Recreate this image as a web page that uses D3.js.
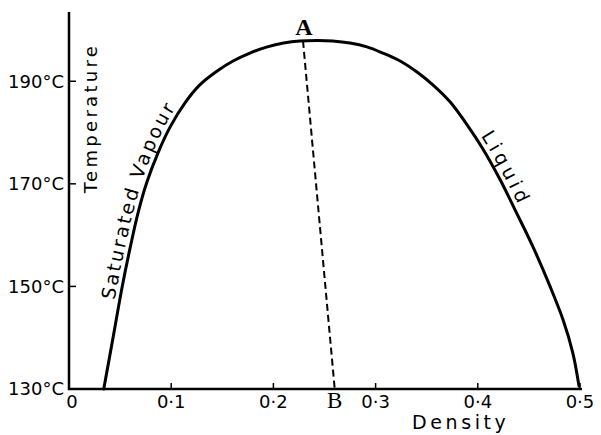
<!DOCTYPE html>
<html>
<head>
<meta charset="utf-8">
<script src="https://cdn.jsdelivr.net/npm/d3@7"></script>
<style>
  html, body { margin: 0; padding: 0; background: #fff; }
  svg { display: block; }
  text { fill: #000; }
</style>
</head>
<body>
<svg id="chart" width="601" height="435"></svg>
<script>
// ---- data ----
const density = [0.034, 0.043, 0.052, 0.060, 0.0675, 0.076, 0.087, 0.099, 0.1135, 0.128, 0.145, 0.1605, 0.177, 0.194, 0.210, 0.226, 0.243, 0.258,
                 0.275, 0.2915, 0.307, 0.324, 0.3405, 0.356, 0.373, 0.389, 0.405, 0.422, 0.438, 0.454, 0.4705, 0.4835, 0.493, 0.499];
const temperature = [130, 139.9, 149.9, 157.7, 164.3, 170.2, 176.0, 181.1, 185.8, 189.3, 192.0, 193.95, 195.5, 196.7, 197.45, 197.85, 197.95, 197.85,
                     197.45, 196.7, 195.5, 193.95, 191.8, 189.3, 185.95, 181.65, 176.8, 170.75, 164.3, 157.7, 150.1, 143.45, 137.0, 130.6];
const diameterDensity = [0.229, 0.260];
const diameterTemp = [197.85, 130];
const xTicks = [0, 0.1, 0.2, 0.3, 0.4, 0.5];
const xTickLabels = ["0", "0·1", "0·2", "0·3", "0·4", "0·5"];
const yTicks = [130, 150, 170, 190];
const yTickLabels = ["130°C", "150°C", "170°C", "190°C"];
const curveLabels = ["Saturated Vapour", "Liquid"];
const curveLabelDensity = [0.051, 0.400];
const curveLabelTemp = [147, 179];
const pointLabels = ["A", "B"];

// ---- layout ----
const sans = '"DejaVu Sans", sans-serif';
const serif = '"Liberation Serif", "DejaVu Serif", serif';
const svg = d3.select("#chart");
const x = d3.scaleLinear().domain([0, 0.5]).range([69, 580]);
const y = d3.scaleLinear().domain([130, 203.5]).range([389, 12]);

// axes lines
svg.append("line").attr("x1", x(0)).attr("x2", x(0)).attr("y1", y(203.5)).attr("y2", y(130) + 1)
  .attr("stroke", "#000").attr("stroke-width", 2.5);
svg.append("line").attr("x1", x(0) - 1).attr("x2", x(0.5) + 2).attr("y1", y(130)).attr("y2", y(130))
  .attr("stroke", "#000").attr("stroke-width", 2.5);

// x ticks
xTicks.forEach((t, i) => {
  if (t > 0) {
    svg.append("line").attr("x1", x(t)).attr("x2", x(t)).attr("y1", y(130)).attr("y2", y(130) - 6)
      .attr("stroke", "#000").attr("stroke-width", 1.5);
  }
  svg.append("text").attr("x", x(t) + (t === 0 ? 3 : 0)).attr("y", 408)
    .attr("text-anchor", "middle").style("font-family", sans).attr("font-size", 18).text(xTickLabels[i]);
});

// y ticks
yTicks.forEach((t, i) => {
  svg.append("line").attr("x1", x(0)).attr("x2", x(0) + 7).attr("y1", y(t)).attr("y2", y(t))
    .attr("stroke", "#000").attr("stroke-width", 1.5);
  svg.append("text").attr("x", 64).attr("y", y(t)).attr("dy", "0.36em")
    .attr("text-anchor", "end").style("font-family", sans).attr("font-size", 18).text(yTickLabels[i]);
});

// axis titles
svg.append("text").attr("transform", "translate(97,118) rotate(-90)")
  .attr("text-anchor", "middle").style("font-family", sans).attr("font-size", 18).attr("letter-spacing", 3.3)
  .text("Temperature");
svg.append("text").attr("x", 412).attr("y", 429)
  .style("font-family", sans).attr("font-size", 19).attr("letter-spacing", 3.6).text("Density");

// curve
const pts = density.map((d, i) => [x(d), y(temperature[i])]);
const line = d3.line().curve(d3.curveCatmullRom.alpha(0.5));
const curve = svg.append("path").attr("id", "coexist").attr("d", line(pts))
  .attr("fill", "none").attr("stroke", "#000").attr("stroke-width", 3)
  .attr("stroke-linecap", "round").attr("stroke-linejoin", "round");

// dashed diameter
svg.append("line")
  .attr("x1", x(diameterDensity[0])).attr("y1", y(diameterTemp[0]))
  .attr("x2", x(diameterDensity[1])).attr("y2", y(diameterTemp[1]))
  .attr("stroke", "#000").attr("stroke-width", 2).attr("stroke-dasharray", "7,4");

// labels along the curve
const node = curve.node();
const total = node.getTotalLength();
function offsetFor(px, py) {
  let best = 0, bestD = Infinity;
  for (let l = 0; l <= total; l += 0.5) {
    const p = node.getPointAtLength(l);
    const dd = (p.x - px) ** 2 + (p.y - py) ** 2;
    if (dd < bestD) { bestD = dd; best = l; }
  }
  return best;
}
curveLabels.forEach((lab, i) => {
  const off = offsetFor(x(curveLabelDensity[i]), y(curveLabelTemp[i]));
  svg.append("text").style("font-family", sans).attr("font-size", 19).attr("dy", -5)
    .attr("letter-spacing", i === 0 ? 2.3 : 4)
    .append("textPath").attr("href", "#coexist").attr("startOffset", off)
    .text(lab);
});

// A and B
svg.append("text").attr("x", x(diameterDensity[0]) + 1).attr("y", 35)
  .attr("text-anchor", "middle").style("font-family", serif)
  .attr("font-weight", "bold").attr("font-size", 24).text(pointLabels[0]);
svg.append("text").attr("x", x(diameterDensity[1])).attr("y", 408)
  .attr("text-anchor", "middle").style("font-family", serif)
  .attr("font-size", 23).text(pointLabels[1]);
</script>
</body>
</html>
